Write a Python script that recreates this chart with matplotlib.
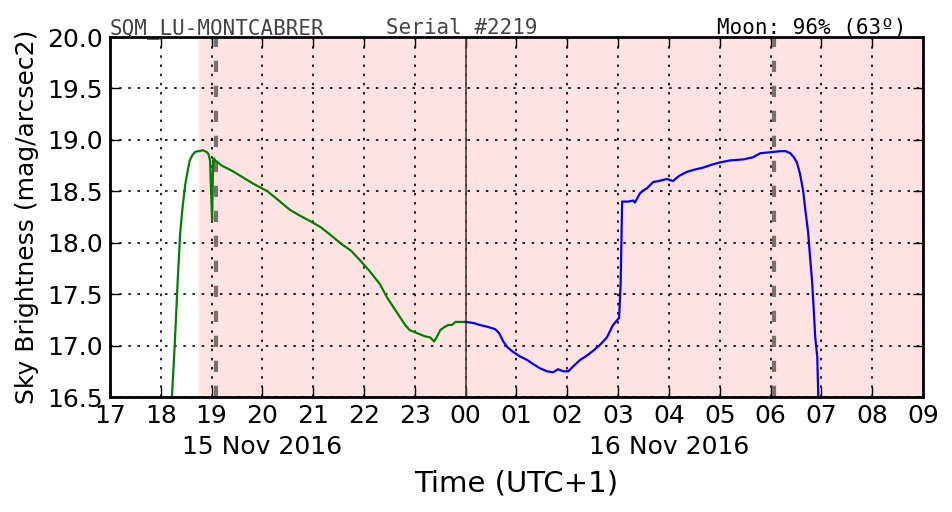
import numpy as np
import matplotlib
matplotlib.use('Agg')
import matplotlib.pyplot as plt

# hours since 00:00 of 15 Nov (UTC+1), sky brightness in mag/arcsec2
hora_dusk = [18.22, 18.28, 18.33, 18.38, 18.43, 18.48, 18.53, 18.57, 18.62, 18.67,
             18.72, 18.77, 18.82, 18.87, 18.91, 18.94, 18.97, 18.99, 19.01, 19.03,
             19.05, 19.07, 19.2, 19.4, 19.6, 19.8, 19.95, 20.1, 20.3, 20.54, 20.75,
             20.94, 21.15, 21.33, 21.55, 21.75, 21.92, 22.1, 22.31, 22.45, 22.61,
             22.81, 22.9, 23.0, 23.1, 23.2, 23.3, 23.38, 23.45, 23.5, 23.58, 23.66,
             23.73, 23.8, 23.9, 24.0]
mag_dusk = [16.5, 17.06, 17.6, 18.08, 18.35, 18.56, 18.7, 18.8, 18.85, 18.88,
            18.89, 18.89, 18.9, 18.89, 18.88, 18.86, 18.8, 18.5, 18.22, 18.8,
            18.82, 18.8, 18.75, 18.7, 18.64, 18.58, 18.54, 18.5, 18.42, 18.32, 18.26,
            18.21, 18.15, 18.08, 17.99, 17.92, 17.83, 17.73, 17.6, 17.47, 17.35,
            17.2, 17.15, 17.13, 17.11, 17.09, 17.08, 17.04, 17.1, 17.15, 17.18, 17.2,
            17.2, 17.23, 17.23, 17.23]

hora_dawn = [24.0, 24.15, 24.28, 24.45, 24.58, 24.66, 24.74, 24.83, 24.93, 25.05,
             25.21, 25.33, 25.46, 25.6, 25.72, 25.82, 25.92, 26.02, 26.12, 26.25,
             26.38, 26.51, 26.65, 26.78, 26.9, 27.02, 27.05, 27.08, 27.2, 27.3, 27.33,
             27.43, 27.5, 27.57, 27.69, 27.8, 27.96, 28.08, 28.2, 28.36, 28.5, 28.67,
             28.85, 29.0, 29.2, 29.46, 29.65, 29.8, 30.0, 30.19, 30.3, 30.39, 30.46,
             30.52, 30.58, 30.64, 30.69, 30.74, 30.78, 30.82, 30.85, 30.88, 30.92,
             30.94]
mag_dawn = [17.23, 17.22, 17.2, 17.18, 17.16, 17.12, 17.04, 16.98, 16.94, 16.9,
            16.86, 16.82, 16.78, 16.75, 16.74, 16.77, 16.75, 16.75, 16.8, 16.86,
            16.9, 16.95, 17.01, 17.08, 17.2, 17.27, 17.6, 18.4, 18.4, 18.41, 18.39,
            18.48, 18.51, 18.53, 18.59, 18.6, 18.62, 18.6, 18.65, 18.69, 18.71, 18.73,
            18.76, 18.78, 18.8, 18.81, 18.83, 18.87, 18.88, 18.89, 18.89, 18.87, 18.83,
            18.78, 18.67, 18.51, 18.3, 18.1, 17.85, 17.61, 17.35, 17.08, 16.89,
            16.5]

inicio_noche = 18.75
ocaso_sol = 19.09
orto_sol = 30.07
medianoche = 24.0

horas = np.arange(17, 34)
etiquetas = ['%02d' % (h % 24) for h in horas]
fechas = ['15 Nov 2016', '16 Nov 2016']
pos_fechas = [20.0, 28.0]

fig = plt.figure(figsize=(9.52, 5.12), dpi=100)
ax = fig.add_axes([0.1155, 0.2246, 0.854, 0.7031])

ax.axvspan(inicio_noche, 33, color='red', alpha=0.11, lw=0)
ax.axvline(ocaso_sol, color='#7a6f6f', ls='--', lw=3, dashes=(2.7, 3.3))
ax.axvline(orto_sol, color='#7a6f6f', ls='--', lw=3, dashes=(2.7, 3.3))
ax.axvline(medianoche, color='#444444', lw=1.2)

ax.plot(hora_dusk, mag_dusk, color='green', lw=1.6)
ax.plot(hora_dawn, mag_dawn, color='blue', lw=1.6)

ax.set_xlim(17, 33)
ax.set_ylim(16.5, 20.0)
ax.set_xticks(horas)
ax.set_xticklabels(etiquetas)
ax.set_yticks(np.arange(16.5, 20.01, 0.5))
ax.set_yticklabels(['%.1f' % v for v in np.arange(16.5, 20.01, 0.5)])
ax.grid(True, color='black', ls=':', lw=1.2, dashes=(1.5, 4))
ax.tick_params(direction='in', top=True, right=True, labelsize=18, length=7, width=1, pad=5)
for s in ax.spines.values():
    s.set_linewidth(2)

for f, p in zip(fechas, pos_fechas):
    ax.text(p, -0.14, f, transform=ax.get_xaxis_transform(), ha='center', va='center', fontsize=18)
ax.set_xlabel('Time (UTC+1)', fontsize=21, labelpad=30)
ax.set_ylabel('Sky Brightness (mag/arcsec2)', fontsize=18, labelpad=6)

titulos = fig.text(0.1155, 0.934, 'SQM_LU-MONTCABRER', family='DejaVu Sans Mono', fontsize=15, color='#444444', zorder=5)
fig.text(0.405, 0.934, 'Serial #2219', family='DejaVu Sans Mono', fontsize=15, color='#444444', zorder=5)
fig.text(0.952, 0.934, 'Moon: 96% (63º)', family='DejaVu Sans Mono', fontsize=15, color='black', ha='right', zorder=5)

fig.savefig('out.png', dpi=100)
